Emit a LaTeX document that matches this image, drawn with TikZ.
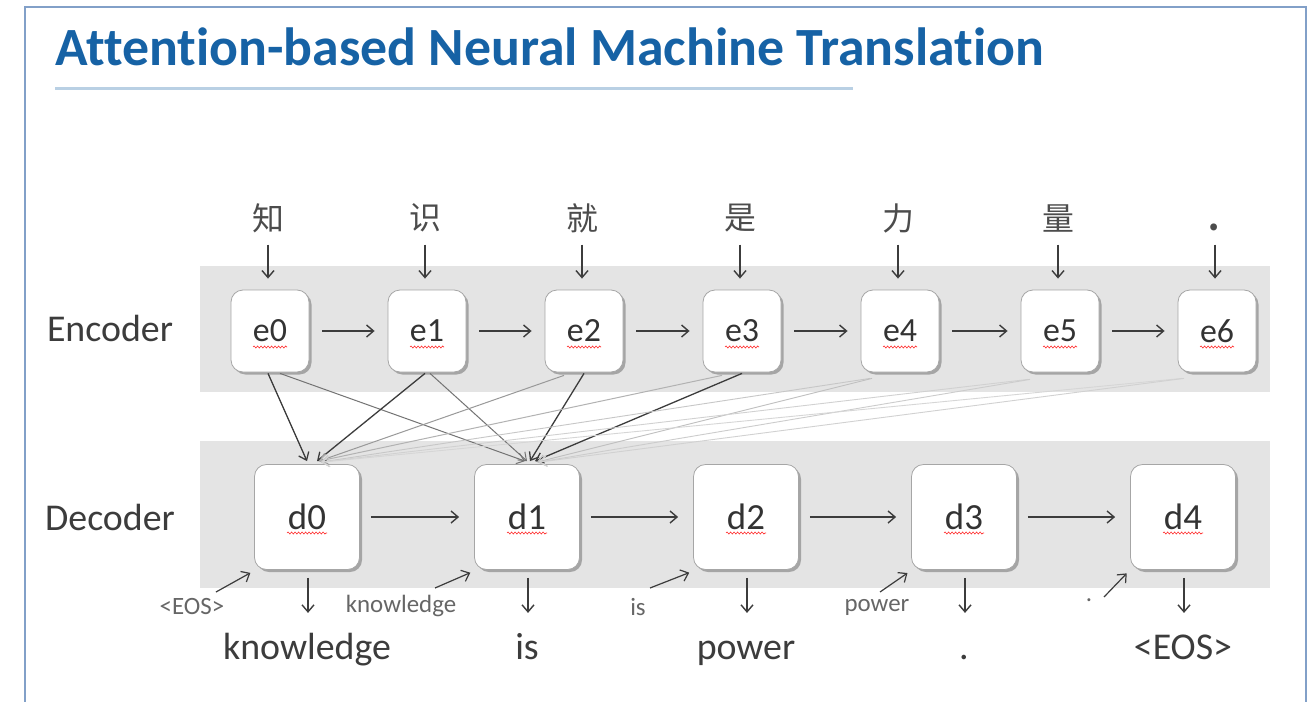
\documentclass[tikz,border=0pt]{standalone}
\usepackage{fontspec}
\setmainfont{Carlito}[Ligatures={NoCommon}]
\newfontfamily\cjk{Noto Sans CJK SC}
\usetikzlibrary{arrows.meta,shadows,calc,decorations.pathmorphing}
\definecolor{titleblue}{RGB}{22,98,165}
\definecolor{frameblue}{RGB}{130,160,200}
\definecolor{band}{RGB}{228,228,228}
\definecolor{ink}{RGB}{60,60,60}
\begin{document}
\begin{tikzpicture}[x=1bp,y=-1bp,
  encbox/.style={draw=black!35,fill=white,rounded corners=12bp,minimum width=78bp,minimum height=82bp,line width=0.8bp,
    drop shadow={shadow xshift=2.5bp,shadow yshift=-2.5bp,opacity=0.55,fill=black!55},text=black!80,inner sep=0pt,
    font=\fontsize{34}{36}\selectfont},
  decbox/.style={encbox,minimum width=105bp,minimum height=105bp,font=\fontsize{37}{40}\selectfont},
  arr/.style={-{Straight Barb[length=7bp,width=12bp]},line width=1.4bp,draw=ink},
  att/.style={-{Straight Barb[length=7bp,width=11bp]},line width=#1},
  squig/.style={draw=red!85,line width=0.6bp,decorate,decoration={snake,segment length=3.5bp,amplitude=1bp}},
  chin/.style={font=\cjk\fontsize{32}{34}\selectfont,text=black!70,inner sep=0pt},
  side/.style={font=\fontsize{38}{40}\selectfont,text=ink},
  outw/.style={font=\fontsize{38}{40}\selectfont,text=ink,inner sep=0pt},
  inw/.style={font=\fontsize{25}{27}\selectfont,text=black!60,inner sep=0pt}
]
\useasboundingbox (0,0) rectangle (1309,701);
\fill[white] (0,0) rectangle (1309,701);
% slide frame
\draw[frameblue,line width=1.5bp] (25,705) -- (25,7) -- (1306,7) -- (1306,705);
% title
\node[anchor=base west,inner sep=0pt,text=titleblue,font=\bfseries\fontsize{54}{56}\selectfont] (title) at (55,66) {Attention-based Neural Machine Translation};
\draw[line width=3bp,draw=titleblue!30] (55,89) -- (853,89);
% bands
\fill[band] (200,266) rectangle (1270,392);
\fill[band] (200,441) rectangle (1270,588);
\node[side] (enc) at (110,328) {Encoder};
\node[side] (dec) at (110,517) {Decoder};
% encoder nodes
\foreach \i/\x in {0/270,1/427,2/584,3/742,4/900,5/1060,6/1217}{
  \node[encbox] (e\i) at (\x,331) {e\i};
  \draw[squig] ($(e\i.center)+(-17,16)$) -- ($(e\i.center)+(17,16)$);
  \draw[arr] ($(e\i.north)+(-2,-45)$) -- ($(e\i.north)+(-2,-11)$);
}
\node[chin] (c0) at (268,218) {知};
\node[chin] (c1) at (425,218) {识};
\node[chin] (c2) at (582,218) {就};
\node[chin] (c3) at (740,218) {是};
\node[chin] (c4) at (898,218) {力};
\node[chin] (c5) at (1058,218) {量};
\node[chin,anchor=base,font=\cjk\bfseries\fontsize{32}{34}\selectfont] (c6) at (1214,230) {.};
\foreach \a/\b in {0/1,1/2,2/3,3/4,4/5,5/6}{
  \draw[arr,shorten <=13bp,shorten >=13bp] (e\a) -- (e\b);
}
% decoder nodes
\foreach \i/\x/\w in {0/307/knowledge,1/527/is,2/746/power,3/964/.,4/1183/{<EOS>}}{
  \node[decbox] (d\i) at (\x,517) {d\i};
  \draw[squig] ($(d\i.center)+(-20,16)$) -- ($(d\i.center)+(20,16)$);
  \node[outw,anchor=base] (o\i) at (\x,659) {\w};
  \draw[arr] ($(d\i.south)+(1,8)$) -- ($(d\i.south)+(1,43)$);
}
\foreach \a/\b in {0/1,1/2,2/3,3/4}{
  \draw[arr,shorten <=11bp,shorten >=15bp] (d\a) -- (d\b);
}
% previous-output inputs
\node[inw] (i0) at (192,606) {<EOS>};
\node[inw] (i1) at (401,606) {knowledge};
\node[inw] (i2) at (638,607) {is};
\node[inw] (i3) at (877,607) {power};
\node[inw] (i4) at (1089,600) {.};
\foreach \i/\sx/\sy in {0/216/592,1/435/588,2/650/588,3/880/592,4/1104/597}{
  \coordinate (s\i) at (\sx,\sy);
  \draw[arr,line width=1.2bp,shorten >=2bp] (s\i) -- ($(d\i.south west)+(-2,2)$);
}
% attention connectors
\draw[att=1.3bp,ink]     ($(e0.south)+(-2,1)$)  -- ($(d0.north)+(0,-3)$);
\draw[att=1bp,black!55]  ($(e0.south)+(10,1)$)  -- ($(d1.north)+(-2,-3)$);
\draw[att=1.3bp,ink]     ($(e1.south)+(-2,1)$)  -- ($(d0.north)+(10,-3)$);
\draw[att=1bp,black!55]  ($(e1.south)+(3,1)$)   -- ($(d1.north)+(0,-3)$);
\draw[att=1bp,black!40]  ($(e2.south)+(-20,3)$) -- ($(d0.north)+(12,-3)$);
\draw[att=1.3bp,ink]     ($(e2.south)+(0,1)$)   -- ($(d1.north)+(3,-3)$);
\draw[att=1bp,black!30]  ($(e3.south)+(-20,3)$) -- ($(d0.north)+(12,-3)$);
\draw[att=1.3bp,ink]     ($(e3.south)+(0,1)$)   -- ($(d1.north)+(8,-3)$);
\draw[att=0.9bp,black!22] ($(e4.south)+(-30,6)$) -- ($(d0.north)+(14,-2)$);
\draw[att=0.9bp,black!25] ($(e4.south)+(-28,6)$) -- ($(d1.north)+(10,-2)$);
\draw[att=0.9bp,black!18] ($(e5.south)+(-32,7)$) -- ($(d0.north)+(14,-2)$);
\draw[att=0.9bp,black!20] ($(e5.south)+(-30,7)$) -- ($(d1.north)+(12,-2)$);
\draw[att=0.9bp,black!16] ($(e6.south)+(-35,6)$) -- ($(d0.north)+(15,-2)$);
\draw[att=0.9bp,black!18] ($(e6.south)+(-33,6)$) -- ($(d1.north)+(12,-2)$);
\end{tikzpicture}
\end{document}
